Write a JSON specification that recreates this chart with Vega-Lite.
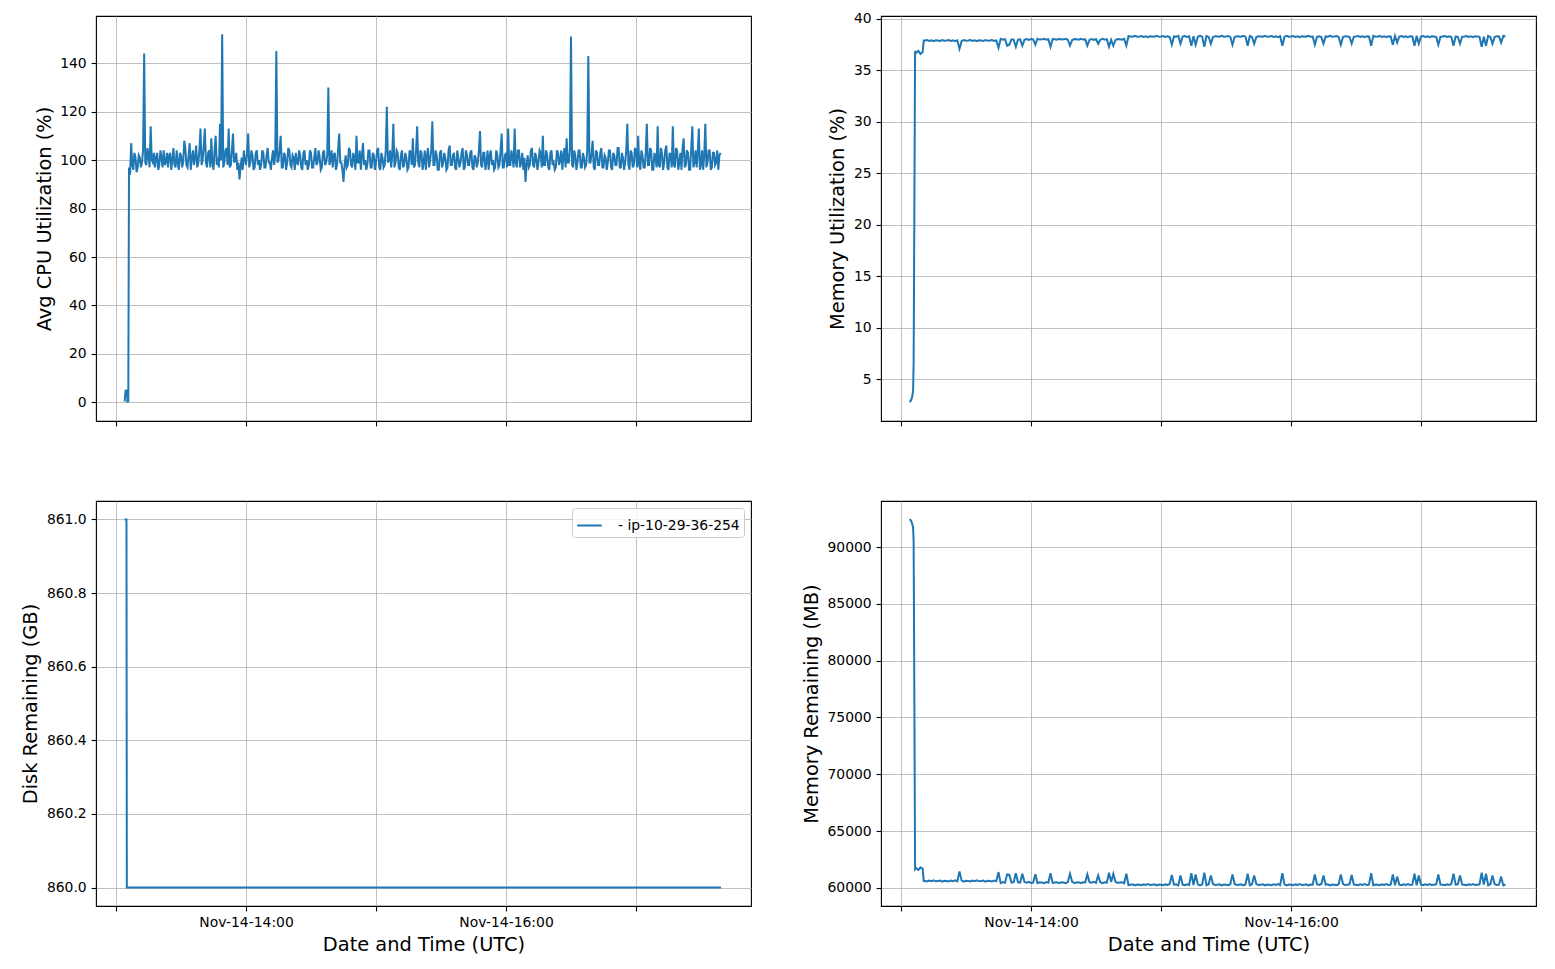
{
  "$schema": "https://vega.github.io/schema/vega-lite/v6.json",
  "background": "white",
  "padding": {"left": 20, "top": 11, "right": 15, "bottom": 5},
  "config": {
    "font": "DejaVu Sans",
    "view": {"stroke": "black", "strokeWidth": 1.1},
    "axis": {
      "labelFont": "DejaVu Sans", "labelFontSize": 13.9, "labelColor": "black",
      "titleFont": "DejaVu Sans", "titleFontSize": 19.4, "titleFontWeight": "normal", "titleColor": "black",
      "gridColor": "#b0b0b0", "gridWidth": 0.8, "grid": true,
      "tickColor": "black", "tickSize": 4.9, "tickWidth": 1.1,
      "domain": false, "labelPadding": 4.9, "titlePadding": 5.6
    },
    "legend": {"labelFont": "DejaVu Sans", "labelFontSize": 13.9, "labelColor": "black"},
    "line": {"color": "#1f77b4", "strokeWidth": 2}
  },
  "datasets": {
    "cpu": [
      {"t":"2023-11-14T13:04:00Z","c":0.4},{"t":"2023-11-14T13:04:25Z","c":4.8},{"t":"2023-11-14T13:05:05Z","c":4.9},{"t":"2023-11-14T13:05:15Z","c":0.3},{"t":"2023-11-14T13:05:40Z","c":0.4},{"t":"2023-11-14T13:06:00Z","c":97},{"t":"2023-11-14T13:06:30Z","c":94},
      {"t":"2023-11-14T13:07Z","c":107},{"t":"2023-11-14T13:07:30Z","c":98},{"t":"2023-11-14T13:08Z","c":96},{"t":"2023-11-14T13:08:30Z","c":103},{"t":"2023-11-14T13:09Z","c":101},{"t":"2023-11-14T13:09:30Z","c":95},{"t":"2023-11-14T13:10Z","c":97},{"t":"2023-11-14T13:10:30Z","c":102},{"t":"2023-11-14T13:11Z","c":101},{"t":"2023-11-14T13:11:30Z","c":97},{"t":"2023-11-14T13:12Z","c":99},{"t":"2023-11-14T13:12:30Z","c":104},{"t":"2023-11-14T13:13Z","c":144},{"t":"2023-11-14T13:13:30Z","c":99},{"t":"2023-11-14T13:14Z","c":98},{"t":"2023-11-14T13:14:30Z","c":105},{"t":"2023-11-14T13:15Z","c":102},{"t":"2023-11-14T13:15:30Z","c":97},{"t":"2023-11-14T13:16Z","c":114},{"t":"2023-11-14T13:16:30Z","c":100},{"t":"2023-11-14T13:17Z","c":99},{"t":"2023-11-14T13:17:30Z","c":103},{"t":"2023-11-14T13:18Z","c":97},{"t":"2023-11-14T13:18:30Z","c":101},{"t":"2023-11-14T13:19Z","c":103},{"t":"2023-11-14T13:19:30Z","c":96},{"t":"2023-11-14T13:20Z","c":98},{"t":"2023-11-14T13:20:30Z","c":104},{"t":"2023-11-14T13:21Z","c":101},{"t":"2023-11-14T13:21:30Z","c":97},{"t":"2023-11-14T13:22Z","c":104},{"t":"2023-11-14T13:22:30Z","c":98},{"t":"2023-11-14T13:23Z","c":99},{"t":"2023-11-14T13:23:30Z","c":103},{"t":"2023-11-14T13:24Z","c":97},{"t":"2023-11-14T13:24:30Z","c":102},{"t":"2023-11-14T13:25Z","c":103},{"t":"2023-11-14T13:25:30Z","c":96},{"t":"2023-11-14T13:26Z","c":100},{"t":"2023-11-14T13:26:30Z","c":105},{"t":"2023-11-14T13:27Z","c":98},{"t":"2023-11-14T13:27:30Z","c":97},{"t":"2023-11-14T13:28Z","c":104},{"t":"2023-11-14T13:28:30Z","c":99},{"t":"2023-11-14T13:29Z","c":96},{"t":"2023-11-14T13:29:30Z","c":103},{"t":"2023-11-14T13:30Z","c":102},{"t":"2023-11-14T13:30:30Z","c":97},{"t":"2023-11-14T13:31Z","c":99},{"t":"2023-11-14T13:31:30Z","c":108},{"t":"2023-11-14T13:32Z","c":105},{"t":"2023-11-14T13:32:30Z","c":98},{"t":"2023-11-14T13:33Z","c":97},{"t":"2023-11-14T13:33:30Z","c":102},{"t":"2023-11-14T13:34Z","c":107},{"t":"2023-11-14T13:34:30Z","c":96},{"t":"2023-11-14T13:35Z","c":101},{"t":"2023-11-14T13:35:30Z","c":104},{"t":"2023-11-14T13:36Z","c":98},{"t":"2023-11-14T13:36:30Z","c":101},{"t":"2023-11-14T13:37Z","c":106},{"t":"2023-11-14T13:37:30Z","c":97},{"t":"2023-11-14T13:38Z","c":99},{"t":"2023-11-14T13:38:30Z","c":104},{"t":"2023-11-14T13:39Z","c":113},{"t":"2023-11-14T13:39:30Z","c":98},{"t":"2023-11-14T13:40Z","c":100},{"t":"2023-11-14T13:40:30Z","c":106},{"t":"2023-11-14T13:41Z","c":113},{"t":"2023-11-14T13:41:30Z","c":99},{"t":"2023-11-14T13:42Z","c":97},{"t":"2023-11-14T13:42:30Z","c":103},{"t":"2023-11-14T13:43Z","c":104},{"t":"2023-11-14T13:43:30Z","c":97},{"t":"2023-11-14T13:44Z","c":109},{"t":"2023-11-14T13:44:30Z","c":99},{"t":"2023-11-14T13:45Z","c":96},{"t":"2023-11-14T13:45:30Z","c":104},{"t":"2023-11-14T13:46Z","c":110},{"t":"2023-11-14T13:46:30Z","c":98},{"t":"2023-11-14T13:47Z","c":101},{"t":"2023-11-14T13:47:30Z","c":97},{"t":"2023-11-14T13:48Z","c":115},{"t":"2023-11-14T13:48:30Z","c":100},{"t":"2023-11-14T13:49Z","c":152},{"t":"2023-11-14T13:49:30Z","c":97},{"t":"2023-11-14T13:50Z","c":99},{"t":"2023-11-14T13:50:30Z","c":104},{"t":"2023-11-14T13:51Z","c":105},{"t":"2023-11-14T13:51:30Z","c":98},{"t":"2023-11-14T13:52Z","c":113},{"t":"2023-11-14T13:52:30Z","c":97},{"t":"2023-11-14T13:53Z","c":98},{"t":"2023-11-14T13:53:30Z","c":104},{"t":"2023-11-14T13:54Z","c":111},{"t":"2023-11-14T13:54:30Z","c":99},{"t":"2023-11-14T13:55Z","c":100},{"t":"2023-11-14T13:55:30Z","c":103},{"t":"2023-11-14T13:56Z","c":96},{"t":"2023-11-14T13:56:30Z","c":99},{"t":"2023-11-14T13:57Z","c":92},{"t":"2023-11-14T13:57:30Z","c":97},{"t":"2023-11-14T13:58Z","c":101},{"t":"2023-11-14T13:58:30Z","c":96},{"t":"2023-11-14T13:59Z","c":104},{"t":"2023-11-14T13:59:30Z","c":100},
      {"t":"2023-11-14T14:00Z","c":98},{"t":"2023-11-14T14:00:30Z","c":103},{"t":"2023-11-14T14:01Z","c":111},{"t":"2023-11-14T14:01:30Z","c":97},{"t":"2023-11-14T14:02Z","c":99},{"t":"2023-11-14T14:02:30Z","c":104},{"t":"2023-11-14T14:03Z","c":102},{"t":"2023-11-14T14:03:30Z","c":96},{"t":"2023-11-14T14:04Z","c":97},{"t":"2023-11-14T14:04:30Z","c":103},{"t":"2023-11-14T14:05Z","c":104},{"t":"2023-11-14T14:05:30Z","c":98},{"t":"2023-11-14T14:06Z","c":100},{"t":"2023-11-14T14:06:30Z","c":96},{"t":"2023-11-14T14:07Z","c":98},{"t":"2023-11-14T14:07:30Z","c":104},{"t":"2023-11-14T14:08Z","c":103},{"t":"2023-11-14T14:08:30Z","c":97},{"t":"2023-11-14T14:09Z","c":97},{"t":"2023-11-14T14:09:30Z","c":102},{"t":"2023-11-14T14:10Z","c":105},{"t":"2023-11-14T14:10:30Z","c":99},{"t":"2023-11-14T14:11Z","c":99},{"t":"2023-11-14T14:11:30Z","c":96},{"t":"2023-11-14T14:12Z","c":101},{"t":"2023-11-14T14:12:30Z","c":104},{"t":"2023-11-14T14:13Z","c":98},{"t":"2023-11-14T14:13:30Z","c":102},{"t":"2023-11-14T14:14Z","c":145},{"t":"2023-11-14T14:14:30Z","c":99},{"t":"2023-11-14T14:15Z","c":100},{"t":"2023-11-14T14:15:30Z","c":104},{"t":"2023-11-14T14:16Z","c":110},{"t":"2023-11-14T14:16:30Z","c":97},{"t":"2023-11-14T14:17Z","c":97},{"t":"2023-11-14T14:17:30Z","c":103},{"t":"2023-11-14T14:18Z","c":102},{"t":"2023-11-14T14:18:30Z","c":96},{"t":"2023-11-14T14:19Z","c":99},{"t":"2023-11-14T14:19:30Z","c":105},{"t":"2023-11-14T14:20Z","c":104},{"t":"2023-11-14T14:20:30Z","c":98},{"t":"2023-11-14T14:21Z","c":97},{"t":"2023-11-14T14:21:30Z","c":102},{"t":"2023-11-14T14:22Z","c":101},{"t":"2023-11-14T14:22:30Z","c":96},{"t":"2023-11-14T14:23Z","c":103},{"t":"2023-11-14T14:23:30Z","c":99},{"t":"2023-11-14T14:24Z","c":98},{"t":"2023-11-14T14:24:30Z","c":104},{"t":"2023-11-14T14:25Z","c":102},{"t":"2023-11-14T14:25:30Z","c":97},{"t":"2023-11-14T14:26Z","c":96},{"t":"2023-11-14T14:26:30Z","c":103},{"t":"2023-11-14T14:27Z","c":104},{"t":"2023-11-14T14:27:30Z","c":98},{"t":"2023-11-14T14:28Z","c":100},{"t":"2023-11-14T14:28:30Z","c":96},{"t":"2023-11-14T14:29Z","c":98},{"t":"2023-11-14T14:29:30Z","c":104},{"t":"2023-11-14T14:30Z","c":103},{"t":"2023-11-14T14:30:30Z","c":97},{"t":"2023-11-14T14:31Z","c":97},{"t":"2023-11-14T14:31:30Z","c":101},{"t":"2023-11-14T14:32Z","c":105},{"t":"2023-11-14T14:32:30Z","c":98},{"t":"2023-11-14T14:33Z","c":99},{"t":"2023-11-14T14:33:30Z","c":104},{"t":"2023-11-14T14:34Z","c":101},{"t":"2023-11-14T14:34:30Z","c":96},{"t":"2023-11-14T14:35Z","c":97},{"t":"2023-11-14T14:35:30Z","c":103},{"t":"2023-11-14T14:36Z","c":104},{"t":"2023-11-14T14:36:30Z","c":98},{"t":"2023-11-14T14:37Z","c":99},{"t":"2023-11-14T14:37:30Z","c":102},{"t":"2023-11-14T14:38Z","c":130},{"t":"2023-11-14T14:38:30Z","c":98},{"t":"2023-11-14T14:39Z","c":100},{"t":"2023-11-14T14:39:30Z","c":104},{"t":"2023-11-14T14:40Z","c":97},{"t":"2023-11-14T14:40:30Z","c":102},{"t":"2023-11-14T14:41Z","c":103},{"t":"2023-11-14T14:41:30Z","c":96},{"t":"2023-11-14T14:42Z","c":98},{"t":"2023-11-14T14:42:30Z","c":104},{"t":"2023-11-14T14:43Z","c":111},{"t":"2023-11-14T14:43:30Z","c":99},{"t":"2023-11-14T14:44Z","c":99},{"t":"2023-11-14T14:44:30Z","c":96},{"t":"2023-11-14T14:45Z","c":91},{"t":"2023-11-14T14:45:30Z","c":98},{"t":"2023-11-14T14:46Z","c":102},{"t":"2023-11-14T14:46:30Z","c":97},{"t":"2023-11-14T14:47Z","c":98},{"t":"2023-11-14T14:47:30Z","c":105},{"t":"2023-11-14T14:48Z","c":104},{"t":"2023-11-14T14:48:30Z","c":98},{"t":"2023-11-14T14:49Z","c":97},{"t":"2023-11-14T14:49:30Z","c":103},{"t":"2023-11-14T14:50Z","c":101},{"t":"2023-11-14T14:50:30Z","c":96},{"t":"2023-11-14T14:51Z","c":110},{"t":"2023-11-14T14:51:30Z","c":99},{"t":"2023-11-14T14:52Z","c":99},{"t":"2023-11-14T14:52:30Z","c":104},{"t":"2023-11-14T14:53Z","c":96},{"t":"2023-11-14T14:53:30Z","c":102},{"t":"2023-11-14T14:54Z","c":107},{"t":"2023-11-14T14:54:30Z","c":98},{"t":"2023-11-14T14:55Z","c":100},{"t":"2023-11-14T14:55:30Z","c":96},{"t":"2023-11-14T14:56Z","c":98},{"t":"2023-11-14T14:56:30Z","c":104},{"t":"2023-11-14T14:57Z","c":104},{"t":"2023-11-14T14:57:30Z","c":97},{"t":"2023-11-14T14:58Z","c":97},{"t":"2023-11-14T14:58:30Z","c":103},{"t":"2023-11-14T14:59Z","c":102},{"t":"2023-11-14T14:59:30Z","c":96},
      {"t":"2023-11-14T15:00Z","c":99},{"t":"2023-11-14T15:00:30Z","c":104},{"t":"2023-11-14T15:01Z","c":105},{"t":"2023-11-14T15:01:30Z","c":97},{"t":"2023-11-14T15:02Z","c":96},{"t":"2023-11-14T15:02:30Z","c":103},{"t":"2023-11-14T15:03Z","c":101},{"t":"2023-11-14T15:03:30Z","c":97},{"t":"2023-11-14T15:04Z","c":98},{"t":"2023-11-14T15:04:30Z","c":104},{"t":"2023-11-14T15:05Z","c":122},{"t":"2023-11-14T15:05:30Z","c":99},{"t":"2023-11-14T15:06Z","c":100},{"t":"2023-11-14T15:06:30Z","c":104},{"t":"2023-11-14T15:07Z","c":97},{"t":"2023-11-14T15:07:30Z","c":102},{"t":"2023-11-14T15:08Z","c":115},{"t":"2023-11-14T15:08:30Z","c":97},{"t":"2023-11-14T15:09Z","c":99},{"t":"2023-11-14T15:09:30Z","c":104},{"t":"2023-11-14T15:10Z","c":103},{"t":"2023-11-14T15:10:30Z","c":97},{"t":"2023-11-14T15:11Z","c":96},{"t":"2023-11-14T15:11:30Z","c":102},{"t":"2023-11-14T15:12Z","c":104},{"t":"2023-11-14T15:12:30Z","c":97},{"t":"2023-11-14T15:13Z","c":98},{"t":"2023-11-14T15:13:30Z","c":103},{"t":"2023-11-14T15:14Z","c":101},{"t":"2023-11-14T15:14:30Z","c":96},{"t":"2023-11-14T15:15Z","c":97},{"t":"2023-11-14T15:15:30Z","c":104},{"t":"2023-11-14T15:16Z","c":103},{"t":"2023-11-14T15:16:30Z","c":98},{"t":"2023-11-14T15:17Z","c":109},{"t":"2023-11-14T15:17:30Z","c":97},{"t":"2023-11-14T15:18Z","c":98},{"t":"2023-11-14T15:18:30Z","c":104},{"t":"2023-11-14T15:19Z","c":114},{"t":"2023-11-14T15:19:30Z","c":99},{"t":"2023-11-14T15:20Z","c":97},{"t":"2023-11-14T15:20:30Z","c":104},{"t":"2023-11-14T15:21Z","c":103},{"t":"2023-11-14T15:21:30Z","c":96},{"t":"2023-11-14T15:22Z","c":99},{"t":"2023-11-14T15:22:30Z","c":104},{"t":"2023-11-14T15:23Z","c":96},{"t":"2023-11-14T15:23:30Z","c":102},{"t":"2023-11-14T15:24Z","c":105},{"t":"2023-11-14T15:24:30Z","c":97},{"t":"2023-11-14T15:25Z","c":100},{"t":"2023-11-14T15:25:30Z","c":104},{"t":"2023-11-14T15:26Z","c":116},{"t":"2023-11-14T15:26:30Z","c":98},{"t":"2023-11-14T15:27Z","c":98},{"t":"2023-11-14T15:27:30Z","c":104},{"t":"2023-11-14T15:28Z","c":102},{"t":"2023-11-14T15:28:30Z","c":96},{"t":"2023-11-14T15:29Z","c":96},{"t":"2023-11-14T15:29:30Z","c":103},{"t":"2023-11-14T15:30Z","c":104},{"t":"2023-11-14T15:30:30Z","c":97},{"t":"2023-11-14T15:31Z","c":99},{"t":"2023-11-14T15:31:30Z","c":103},{"t":"2023-11-14T15:32Z","c":101},{"t":"2023-11-14T15:32:30Z","c":96},{"t":"2023-11-14T15:33Z","c":97},{"t":"2023-11-14T15:33:30Z","c":104},{"t":"2023-11-14T15:34Z","c":106},{"t":"2023-11-14T15:34:30Z","c":98},{"t":"2023-11-14T15:35Z","c":98},{"t":"2023-11-14T15:35:30Z","c":102},{"t":"2023-11-14T15:36Z","c":103},{"t":"2023-11-14T15:36:30Z","c":97},{"t":"2023-11-14T15:37Z","c":96},{"t":"2023-11-14T15:37:30Z","c":104},{"t":"2023-11-14T15:38Z","c":101},{"t":"2023-11-14T15:38:30Z","c":97},{"t":"2023-11-14T15:39Z","c":99},{"t":"2023-11-14T15:39:30Z","c":103},{"t":"2023-11-14T15:40Z","c":105},{"t":"2023-11-14T15:40:30Z","c":96},{"t":"2023-11-14T15:41Z","c":97},{"t":"2023-11-14T15:41:30Z","c":104},{"t":"2023-11-14T15:42Z","c":102},{"t":"2023-11-14T15:42:30Z","c":98},{"t":"2023-11-14T15:43Z","c":98},{"t":"2023-11-14T15:43:30Z","c":103},{"t":"2023-11-14T15:44Z","c":104},{"t":"2023-11-14T15:44:30Z","c":97},{"t":"2023-11-14T15:45Z","c":96},{"t":"2023-11-14T15:45:30Z","c":102},{"t":"2023-11-14T15:46Z","c":101},{"t":"2023-11-14T15:46:30Z","c":97},{"t":"2023-11-14T15:47Z","c":99},{"t":"2023-11-14T15:47:30Z","c":104},{"t":"2023-11-14T15:48Z","c":112},{"t":"2023-11-14T15:48:30Z","c":98},{"t":"2023-11-14T15:49Z","c":97},{"t":"2023-11-14T15:49:30Z","c":103},{"t":"2023-11-14T15:50Z","c":103},{"t":"2023-11-14T15:50:30Z","c":96},{"t":"2023-11-14T15:51Z","c":99},{"t":"2023-11-14T15:51:30Z","c":104},{"t":"2023-11-14T15:52Z","c":96},{"t":"2023-11-14T15:52:30Z","c":102},{"t":"2023-11-14T15:53Z","c":104},{"t":"2023-11-14T15:53:30Z","c":98},{"t":"2023-11-14T15:54Z","c":100},{"t":"2023-11-14T15:54:30Z","c":96},{"t":"2023-11-14T15:55Z","c":97},{"t":"2023-11-14T15:55:30Z","c":104},{"t":"2023-11-14T15:56Z","c":102},{"t":"2023-11-14T15:56:30Z","c":97},{"t":"2023-11-14T15:57Z","c":98},{"t":"2023-11-14T15:57:30Z","c":104},{"t":"2023-11-14T15:58Z","c":111},{"t":"2023-11-14T15:58:30Z","c":97},{"t":"2023-11-14T15:59Z","c":97},{"t":"2023-11-14T15:59:30Z","c":102},
      {"t":"2023-11-14T16:00Z","c":103},{"t":"2023-11-14T16:00:30Z","c":97},{"t":"2023-11-14T16:01Z","c":113},{"t":"2023-11-14T16:01:30Z","c":98},{"t":"2023-11-14T16:02Z","c":98},{"t":"2023-11-14T16:02:30Z","c":104},{"t":"2023-11-14T16:03Z","c":101},{"t":"2023-11-14T16:03:30Z","c":97},{"t":"2023-11-14T16:04Z","c":113},{"t":"2023-11-14T16:04:30Z","c":99},{"t":"2023-11-14T16:05Z","c":97},{"t":"2023-11-14T16:05:30Z","c":104},{"t":"2023-11-14T16:06Z","c":104},{"t":"2023-11-14T16:06:30Z","c":97},{"t":"2023-11-14T16:07Z","c":99},{"t":"2023-11-14T16:07:30Z","c":103},{"t":"2023-11-14T16:08Z","c":96},{"t":"2023-11-14T16:08:30Z","c":101},{"t":"2023-11-14T16:09Z","c":91},{"t":"2023-11-14T16:09:30Z","c":98},{"t":"2023-11-14T16:10Z","c":102},{"t":"2023-11-14T16:10:30Z","c":97},{"t":"2023-11-14T16:11Z","c":98},{"t":"2023-11-14T16:11:30Z","c":104},{"t":"2023-11-14T16:12Z","c":105},{"t":"2023-11-14T16:12:30Z","c":98},{"t":"2023-11-14T16:13Z","c":97},{"t":"2023-11-14T16:13:30Z","c":103},{"t":"2023-11-14T16:14Z","c":101},{"t":"2023-11-14T16:14:30Z","c":96},{"t":"2023-11-14T16:15Z","c":99},{"t":"2023-11-14T16:15:30Z","c":104},{"t":"2023-11-14T16:16Z","c":103},{"t":"2023-11-14T16:16:30Z","c":97},{"t":"2023-11-14T16:17Z","c":110},{"t":"2023-11-14T16:17:30Z","c":98},{"t":"2023-11-14T16:18Z","c":98},{"t":"2023-11-14T16:18:30Z","c":104},{"t":"2023-11-14T16:19Z","c":102},{"t":"2023-11-14T16:19:30Z","c":97},{"t":"2023-11-14T16:20Z","c":96},{"t":"2023-11-14T16:20:30Z","c":103},{"t":"2023-11-14T16:21Z","c":104},{"t":"2023-11-14T16:21:30Z","c":98},{"t":"2023-11-14T16:22Z","c":99},{"t":"2023-11-14T16:22:30Z","c":96},{"t":"2023-11-14T16:23Z","c":97},{"t":"2023-11-14T16:23:30Z","c":104},{"t":"2023-11-14T16:24Z","c":103},{"t":"2023-11-14T16:24:30Z","c":98},{"t":"2023-11-14T16:25Z","c":100},{"t":"2023-11-14T16:25:30Z","c":104},{"t":"2023-11-14T16:26Z","c":96},{"t":"2023-11-14T16:26:30Z","c":102},{"t":"2023-11-14T16:27Z","c":105},{"t":"2023-11-14T16:27:30Z","c":97},{"t":"2023-11-14T16:28Z","c":109},{"t":"2023-11-14T16:28:30Z","c":99},{"t":"2023-11-14T16:29Z","c":99},{"t":"2023-11-14T16:29:30Z","c":104},{"t":"2023-11-14T16:30Z","c":151},{"t":"2023-11-14T16:30:30Z","c":98},{"t":"2023-11-14T16:31Z","c":97},{"t":"2023-11-14T16:31:30Z","c":104},{"t":"2023-11-14T16:32Z","c":102},{"t":"2023-11-14T16:32:30Z","c":96},{"t":"2023-11-14T16:33Z","c":99},{"t":"2023-11-14T16:33:30Z","c":104},{"t":"2023-11-14T16:34Z","c":104},{"t":"2023-11-14T16:34:30Z","c":97},{"t":"2023-11-14T16:35Z","c":97},{"t":"2023-11-14T16:35:30Z","c":103},{"t":"2023-11-14T16:36Z","c":101},{"t":"2023-11-14T16:36:30Z","c":97},{"t":"2023-11-14T16:37Z","c":98},{"t":"2023-11-14T16:37:30Z","c":104},{"t":"2023-11-14T16:38Z","c":143},{"t":"2023-11-14T16:38:30Z","c":99},{"t":"2023-11-14T16:39Z","c":99},{"t":"2023-11-14T16:39:30Z","c":103},{"t":"2023-11-14T16:40Z","c":108},{"t":"2023-11-14T16:40:30Z","c":97},{"t":"2023-11-14T16:41Z","c":96},{"t":"2023-11-14T16:41:30Z","c":104},{"t":"2023-11-14T16:42Z","c":103},{"t":"2023-11-14T16:42:30Z","c":98},{"t":"2023-11-14T16:43Z","c":98},{"t":"2023-11-14T16:43:30Z","c":103},{"t":"2023-11-14T16:44Z","c":105},{"t":"2023-11-14T16:44:30Z","c":97},{"t":"2023-11-14T16:45Z","c":97},{"t":"2023-11-14T16:45:30Z","c":102},{"t":"2023-11-14T16:46Z","c":101},{"t":"2023-11-14T16:46:30Z","c":96},{"t":"2023-11-14T16:47Z","c":99},{"t":"2023-11-14T16:47:30Z","c":104},{"t":"2023-11-14T16:48Z","c":104},{"t":"2023-11-14T16:48:30Z","c":97},{"t":"2023-11-14T16:49Z","c":96},{"t":"2023-11-14T16:49:30Z","c":103},{"t":"2023-11-14T16:50Z","c":102},{"t":"2023-11-14T16:50:30Z","c":98},{"t":"2023-11-14T16:51Z","c":98},{"t":"2023-11-14T16:51:30Z","c":105},{"t":"2023-11-14T16:52Z","c":105},{"t":"2023-11-14T16:52:30Z","c":97},{"t":"2023-11-14T16:53Z","c":97},{"t":"2023-11-14T16:53:30Z","c":103},{"t":"2023-11-14T16:54Z","c":101},{"t":"2023-11-14T16:54:30Z","c":96},{"t":"2023-11-14T16:55Z","c":99},{"t":"2023-11-14T16:55:30Z","c":104},{"t":"2023-11-14T16:56Z","c":115},{"t":"2023-11-14T16:56:30Z","c":98},{"t":"2023-11-14T16:57Z","c":96},{"t":"2023-11-14T16:57:30Z","c":104},{"t":"2023-11-14T16:58Z","c":103},{"t":"2023-11-14T16:58:30Z","c":97},{"t":"2023-11-14T16:59Z","c":98},{"t":"2023-11-14T16:59:30Z","c":105},
      {"t":"2023-11-14T17:00Z","c":104},{"t":"2023-11-14T17:00:30Z","c":97},{"t":"2023-11-14T17:01Z","c":110},{"t":"2023-11-14T17:01:30Z","c":98},{"t":"2023-11-14T17:02Z","c":96},{"t":"2023-11-14T17:02:30Z","c":104},{"t":"2023-11-14T17:03Z","c":102},{"t":"2023-11-14T17:03:30Z","c":97},{"t":"2023-11-14T17:04Z","c":97},{"t":"2023-11-14T17:04:30Z","c":103},{"t":"2023-11-14T17:05Z","c":115},{"t":"2023-11-14T17:05:30Z","c":98},{"t":"2023-11-14T17:06Z","c":98},{"t":"2023-11-14T17:06:30Z","c":105},{"t":"2023-11-14T17:07Z","c":104},{"t":"2023-11-14T17:07:30Z","c":96},{"t":"2023-11-14T17:08Z","c":96},{"t":"2023-11-14T17:08:30Z","c":103},{"t":"2023-11-14T17:09Z","c":101},{"t":"2023-11-14T17:09:30Z","c":97},{"t":"2023-11-14T17:10Z","c":114},{"t":"2023-11-14T17:10:30Z","c":98},{"t":"2023-11-14T17:11Z","c":97},{"t":"2023-11-14T17:11:30Z","c":105},{"t":"2023-11-14T17:12Z","c":103},{"t":"2023-11-14T17:12:30Z","c":96},{"t":"2023-11-14T17:13Z","c":99},{"t":"2023-11-14T17:13:30Z","c":104},{"t":"2023-11-14T17:14Z","c":106},{"t":"2023-11-14T17:14:30Z","c":97},{"t":"2023-11-14T17:15Z","c":96},{"t":"2023-11-14T17:15:30Z","c":103},{"t":"2023-11-14T17:16Z","c":102},{"t":"2023-11-14T17:16:30Z","c":97},{"t":"2023-11-14T17:17Z","c":114},{"t":"2023-11-14T17:17:30Z","c":98},{"t":"2023-11-14T17:18Z","c":97},{"t":"2023-11-14T17:18:30Z","c":105},{"t":"2023-11-14T17:19Z","c":104},{"t":"2023-11-14T17:19:30Z","c":96},{"t":"2023-11-14T17:20Z","c":99},{"t":"2023-11-14T17:20:30Z","c":103},{"t":"2023-11-14T17:21Z","c":96},{"t":"2023-11-14T17:21:30Z","c":105},{"t":"2023-11-14T17:22Z","c":109},{"t":"2023-11-14T17:22:30Z","c":97},{"t":"2023-11-14T17:23Z","c":98},{"t":"2023-11-14T17:23:30Z","c":104},{"t":"2023-11-14T17:24Z","c":103},{"t":"2023-11-14T17:24:30Z","c":96},{"t":"2023-11-14T17:25Z","c":96},{"t":"2023-11-14T17:25:30Z","c":105},{"t":"2023-11-14T17:26Z","c":114},{"t":"2023-11-14T17:26:30Z","c":97},{"t":"2023-11-14T17:27Z","c":99},{"t":"2023-11-14T17:27:30Z","c":104},{"t":"2023-11-14T17:28Z","c":97},{"t":"2023-11-14T17:28:30Z","c":103},{"t":"2023-11-14T17:29Z","c":113},{"t":"2023-11-14T17:29:30Z","c":96},{"t":"2023-11-14T17:30Z","c":98},{"t":"2023-11-14T17:30:30Z","c":104},{"t":"2023-11-14T17:31Z","c":96},{"t":"2023-11-14T17:31:30Z","c":102},{"t":"2023-11-14T17:32Z","c":115},{"t":"2023-11-14T17:32:30Z","c":97},{"t":"2023-11-14T17:33Z","c":99},{"t":"2023-11-14T17:33:30Z","c":104},{"t":"2023-11-14T17:34Z","c":104},{"t":"2023-11-14T17:34:30Z","c":96},{"t":"2023-11-14T17:35Z","c":97},{"t":"2023-11-14T17:35:30Z","c":103},{"t":"2023-11-14T17:36Z","c":103},{"t":"2023-11-14T17:36:30Z","c":98},{"t":"2023-11-14T17:37Z","c":99},{"t":"2023-11-14T17:37:30Z","c":104},{"t":"2023-11-14T17:38Z","c":96},{"t":"2023-11-14T17:38:30Z","c":102},{"t":"2023-11-14T17:39Z","c":103}
    ],
    "mem": [
      {"t":"2023-11-14T13:04:00Z","m":2.77,"r":92460},{"t":"2023-11-14T13:04:40Z","m":2.95,"r":92300},{"t":"2023-11-14T13:05:10Z","m":3.3,"r":92050},{"t":"2023-11-14T13:05:35Z","m":3.9,"r":91700},{"t":"2023-11-14T13:05:50Z","m":6.6,"r":90500},{"t":"2023-11-14T13:06:10Z","m":21.5,"r":76500},{"t":"2023-11-14T13:06:30Z","m":36.9,"r":61650},{"t":"2023-11-14T13:07Z","m":36.7,"r":61750},{"t":"2023-11-14T13:08Z","m":36.9,"r":61600},{"t":"2023-11-14T13:09Z","m":36.6,"r":61800},{"t":"2023-11-14T13:10Z","m":36.8,"r":61700},{"t":"2023-11-14T13:10:30Z","m":37.9,"r":60620},
      {"t":"2023-11-14T13:11Z","m":37.90,"r":60620},{"t":"2023-11-14T13:12Z","m":37.95,"r":60570},{"t":"2023-11-14T13:13Z","m":37.86,"r":60660},{"t":"2023-11-14T13:14Z","m":37.92,"r":60600},{"t":"2023-11-14T13:15Z","m":37.84,"r":60680},{"t":"2023-11-14T13:16Z","m":37.93,"r":60590},{"t":"2023-11-14T13:17Z","m":37.90,"r":60620},{"t":"2023-11-14T13:18Z","m":37.87,"r":60650},{"t":"2023-11-14T13:19Z","m":37.96,"r":60560},{"t":"2023-11-14T13:20Z","m":37.88,"r":60640},{"t":"2023-11-14T13:21Z","m":37.90,"r":60620},{"t":"2023-11-14T13:22Z","m":37.95,"r":60570},{"t":"2023-11-14T13:23Z","m":37.86,"r":60660},{"t":"2023-11-14T13:24Z","m":37.92,"r":60600},{"t":"2023-11-14T13:25Z","m":37.84,"r":60680},{"t":"2023-11-14T13:26Z","m":37.93,"r":60590},{"t":"2023-11-14T13:27Z","m":37.10,"r":61450},{"t":"2023-11-14T13:28Z","m":37.87,"r":60650},{"t":"2023-11-14T13:29Z","m":37.96,"r":60560},{"t":"2023-11-14T13:30Z","m":37.88,"r":60640},{"t":"2023-11-14T13:31Z","m":37.90,"r":60620},{"t":"2023-11-14T13:32Z","m":37.95,"r":60570},{"t":"2023-11-14T13:33Z","m":37.86,"r":60660},{"t":"2023-11-14T13:34Z","m":37.92,"r":60600},{"t":"2023-11-14T13:35Z","m":37.84,"r":60680},{"t":"2023-11-14T13:36Z","m":37.93,"r":60590},{"t":"2023-11-14T13:37Z","m":37.90,"r":60620},{"t":"2023-11-14T13:38Z","m":37.87,"r":60650},{"t":"2023-11-14T13:39Z","m":37.96,"r":60560},{"t":"2023-11-14T13:40Z","m":37.88,"r":60640},{"t":"2023-11-14T13:41Z","m":37.90,"r":60620},{"t":"2023-11-14T13:42Z","m":37.95,"r":60570},{"t":"2023-11-14T13:43Z","m":37.86,"r":60660},{"t":"2023-11-14T13:44Z","m":37.92,"r":60600},
      {"t":"2023-11-14T13:45Z","m":37.20,"r":61400},{"t":"2023-11-14T13:46Z","m":38.07,"r":60430},{"t":"2023-11-14T13:47Z","m":37.98,"r":60520},{"t":"2023-11-14T13:48Z","m":38.04,"r":60460},{"t":"2023-11-14T13:49Z","m":37.40,"r":61200},{"t":"2023-11-14T13:50Z","m":37.50,"r":61150},{"t":"2023-11-14T13:51Z","m":38.02,"r":60480},{"t":"2023-11-14T13:52Z","m":37.99,"r":60510},{"t":"2023-11-14T13:53Z","m":37.30,"r":61300},{"t":"2023-11-14T13:54Z","m":38.00,"r":60500},{"t":"2023-11-14T13:55Z","m":38.02,"r":60480},{"t":"2023-11-14T13:56Z","m":37.40,"r":61250},{"t":"2023-11-14T13:57Z","m":37.98,"r":60520},{"t":"2023-11-14T13:58Z","m":38.04,"r":60460},{"t":"2023-11-14T13:59Z","m":37.96,"r":60540},{"t":"2023-11-14T14:00Z","m":38.05,"r":60450},{"t":"2023-11-14T14:01Z","m":38.02,"r":60480},{"t":"2023-11-14T14:02Z","m":37.50,"r":61200},{"t":"2023-11-14T14:03Z","m":38.08,"r":60420},{"t":"2023-11-14T14:04Z","m":38.00,"r":60500},{"t":"2023-11-14T14:05Z","m":38.02,"r":60480},{"t":"2023-11-14T14:06Z","m":38.07,"r":60430},{"t":"2023-11-14T14:07Z","m":37.98,"r":60520},{"t":"2023-11-14T14:08Z","m":38.04,"r":60460},{"t":"2023-11-14T14:09Z","m":37.30,"r":61300},{"t":"2023-11-14T14:10Z","m":38.05,"r":60450},{"t":"2023-11-14T14:11Z","m":38.02,"r":60480},{"t":"2023-11-14T14:12Z","m":37.99,"r":60510},{"t":"2023-11-14T14:13Z","m":38.08,"r":60420},{"t":"2023-11-14T14:14Z","m":38.00,"r":60500},{"t":"2023-11-14T14:15Z","m":38.02,"r":60480},{"t":"2023-11-14T14:16Z","m":38.07,"r":60430},{"t":"2023-11-14T14:17Z","m":37.98,"r":60520},{"t":"2023-11-14T14:18Z","m":37.40,"r":61250},{"t":"2023-11-14T14:19Z","m":37.96,"r":60540},{"t":"2023-11-14T14:20Z","m":38.05,"r":60450},{"t":"2023-11-14T14:21Z","m":38.02,"r":60480},{"t":"2023-11-14T14:22Z","m":37.99,"r":60510},{"t":"2023-11-14T14:23Z","m":38.08,"r":60420},{"t":"2023-11-14T14:24Z","m":38.00,"r":60500},{"t":"2023-11-14T14:25Z","m":38.02,"r":60480},{"t":"2023-11-14T14:26Z","m":37.40,"r":61200},{"t":"2023-11-14T14:27Z","m":37.98,"r":60520},{"t":"2023-11-14T14:28Z","m":38.04,"r":60460},{"t":"2023-11-14T14:29Z","m":37.96,"r":60540},{"t":"2023-11-14T14:30Z","m":38.05,"r":60450},{"t":"2023-11-14T14:31Z","m":37.60,"r":61100},{"t":"2023-11-14T14:32Z","m":37.99,"r":60510},{"t":"2023-11-14T14:33Z","m":38.08,"r":60420},{"t":"2023-11-14T14:34Z","m":38.00,"r":60500},{"t":"2023-11-14T14:35Z","m":38.02,"r":60480},{"t":"2023-11-14T14:36Z","m":37.30,"r":61350},{"t":"2023-11-14T14:37Z","m":37.98,"r":60520},{"t":"2023-11-14T14:38Z","m":37.40,"r":61250},{"t":"2023-11-14T14:39Z","m":37.96,"r":60540},{"t":"2023-11-14T14:40Z","m":38.05,"r":60450},{"t":"2023-11-14T14:41Z","m":38.02,"r":60480},{"t":"2023-11-14T14:42Z","m":37.99,"r":60510},{"t":"2023-11-14T14:43Z","m":38.08,"r":60420},
      {"t":"2023-11-14T14:44Z","m":37.40,"r":61250},{"t":"2023-11-14T14:45Z","m":38.33,"r":60260},{"t":"2023-11-14T14:46Z","m":38.30,"r":60290},{"t":"2023-11-14T14:47Z","m":38.27,"r":60320},{"t":"2023-11-14T14:48Z","m":38.36,"r":60230},{"t":"2023-11-14T14:49Z","m":38.28,"r":60310},{"t":"2023-11-14T14:50Z","m":38.30,"r":60290},{"t":"2023-11-14T14:51Z","m":38.35,"r":60240},{"t":"2023-11-14T14:52Z","m":38.26,"r":60330},{"t":"2023-11-14T14:53Z","m":38.32,"r":60270},{"t":"2023-11-14T14:54Z","m":38.24,"r":60350},{"t":"2023-11-14T14:55Z","m":38.33,"r":60260},{"t":"2023-11-14T14:56Z","m":38.30,"r":60290},{"t":"2023-11-14T14:57Z","m":38.27,"r":60320},{"t":"2023-11-14T14:58Z","m":38.36,"r":60230},{"t":"2023-11-14T14:59Z","m":38.28,"r":60310},
      {"t":"2023-11-14T15:00Z","m":38.30,"r":60290},{"t":"2023-11-14T15:01Z","m":38.35,"r":60240},{"t":"2023-11-14T15:02Z","m":38.26,"r":60330},{"t":"2023-11-14T15:03Z","m":38.32,"r":60270},{"t":"2023-11-14T15:04Z","m":38.24,"r":60350},{"t":"2023-11-14T15:05Z","m":37.50,"r":61150},{"t":"2023-11-14T15:06Z","m":38.30,"r":60290},{"t":"2023-11-14T15:07Z","m":38.27,"r":60320},{"t":"2023-11-14T15:08Z","m":38.36,"r":60230},{"t":"2023-11-14T15:09Z","m":37.60,"r":61100},{"t":"2023-11-14T15:10Z","m":38.30,"r":60290},{"t":"2023-11-14T15:11Z","m":38.35,"r":60240},{"t":"2023-11-14T15:12Z","m":38.26,"r":60330},{"t":"2023-11-14T15:13Z","m":38.32,"r":60270},{"t":"2023-11-14T15:14Z","m":37.40,"r":61300},{"t":"2023-11-14T15:15Z","m":38.33,"r":60260},{"t":"2023-11-14T15:16Z","m":37.50,"r":61200},{"t":"2023-11-14T15:17Z","m":38.27,"r":60320},{"t":"2023-11-14T15:18Z","m":38.36,"r":60230},{"t":"2023-11-14T15:19Z","m":38.28,"r":60310},{"t":"2023-11-14T15:20Z","m":37.30,"r":61350},{"t":"2023-11-14T15:21Z","m":38.35,"r":60240},{"t":"2023-11-14T15:22Z","m":38.26,"r":60330},{"t":"2023-11-14T15:23Z","m":37.60,"r":61100},{"t":"2023-11-14T15:24Z","m":38.24,"r":60350},{"t":"2023-11-14T15:25Z","m":38.33,"r":60260},{"t":"2023-11-14T15:26Z","m":38.30,"r":60290},{"t":"2023-11-14T15:27Z","m":38.27,"r":60320},{"t":"2023-11-14T15:28Z","m":38.36,"r":60230},{"t":"2023-11-14T15:29Z","m":38.28,"r":60310},{"t":"2023-11-14T15:30Z","m":38.30,"r":60290},{"t":"2023-11-14T15:31Z","m":38.35,"r":60240},{"t":"2023-11-14T15:32Z","m":38.26,"r":60330},{"t":"2023-11-14T15:33Z","m":37.50,"r":61200},{"t":"2023-11-14T15:34Z","m":38.24,"r":60350},{"t":"2023-11-14T15:35Z","m":38.33,"r":60260},{"t":"2023-11-14T15:36Z","m":38.30,"r":60290},{"t":"2023-11-14T15:37Z","m":38.27,"r":60320},{"t":"2023-11-14T15:38Z","m":38.36,"r":60230},{"t":"2023-11-14T15:39Z","m":38.28,"r":60310},{"t":"2023-11-14T15:40Z","m":37.40,"r":61250},{"t":"2023-11-14T15:41Z","m":38.35,"r":60240},{"t":"2023-11-14T15:42Z","m":38.26,"r":60330},{"t":"2023-11-14T15:43Z","m":37.60,"r":61100},{"t":"2023-11-14T15:44Z","m":38.24,"r":60350},{"t":"2023-11-14T15:45Z","m":38.33,"r":60260},{"t":"2023-11-14T15:46Z","m":38.30,"r":60290},{"t":"2023-11-14T15:47Z","m":38.27,"r":60320},{"t":"2023-11-14T15:48Z","m":38.36,"r":60230},{"t":"2023-11-14T15:49Z","m":38.28,"r":60310},{"t":"2023-11-14T15:50Z","m":38.30,"r":60290},{"t":"2023-11-14T15:51Z","m":38.35,"r":60240},{"t":"2023-11-14T15:52Z","m":38.26,"r":60330},{"t":"2023-11-14T15:53Z","m":38.32,"r":60270},{"t":"2023-11-14T15:54Z","m":38.24,"r":60350},{"t":"2023-11-14T15:55Z","m":38.33,"r":60260},{"t":"2023-11-14T15:56Z","m":37.40,"r":61300},{"t":"2023-11-14T15:57Z","m":38.27,"r":60320},{"t":"2023-11-14T15:58Z","m":38.36,"r":60230},{"t":"2023-11-14T15:59Z","m":38.28,"r":60310},
      {"t":"2023-11-14T16:00Z","m":38.30,"r":60290},{"t":"2023-11-14T16:01Z","m":38.35,"r":60240},{"t":"2023-11-14T16:02Z","m":38.26,"r":60330},{"t":"2023-11-14T16:03Z","m":38.32,"r":60270},{"t":"2023-11-14T16:04Z","m":38.24,"r":60350},{"t":"2023-11-14T16:05Z","m":38.33,"r":60260},{"t":"2023-11-14T16:06Z","m":38.30,"r":60290},{"t":"2023-11-14T16:07Z","m":38.27,"r":60320},{"t":"2023-11-14T16:08Z","m":38.36,"r":60230},{"t":"2023-11-14T16:09Z","m":38.28,"r":60310},{"t":"2023-11-14T16:10Z","m":38.30,"r":60290},{"t":"2023-11-14T16:11Z","m":37.50,"r":61200},{"t":"2023-11-14T16:12Z","m":38.26,"r":60330},{"t":"2023-11-14T16:13Z","m":38.32,"r":60270},{"t":"2023-11-14T16:14Z","m":38.24,"r":60350},{"t":"2023-11-14T16:15Z","m":37.60,"r":61100},{"t":"2023-11-14T16:16Z","m":38.30,"r":60290},{"t":"2023-11-14T16:17Z","m":38.27,"r":60320},{"t":"2023-11-14T16:18Z","m":38.36,"r":60230},{"t":"2023-11-14T16:19Z","m":38.28,"r":60310},{"t":"2023-11-14T16:20Z","m":38.30,"r":60290},{"t":"2023-11-14T16:21Z","m":38.35,"r":60240},{"t":"2023-11-14T16:22Z","m":38.26,"r":60330},{"t":"2023-11-14T16:23Z","m":37.50,"r":61200},{"t":"2023-11-14T16:24Z","m":38.24,"r":60350},{"t":"2023-11-14T16:25Z","m":38.33,"r":60260},{"t":"2023-11-14T16:26Z","m":38.30,"r":60290},{"t":"2023-11-14T16:27Z","m":38.27,"r":60320},{"t":"2023-11-14T16:28Z","m":37.60,"r":61150},{"t":"2023-11-14T16:29Z","m":38.28,"r":60310},{"t":"2023-11-14T16:30Z","m":38.30,"r":60290},{"t":"2023-11-14T16:31Z","m":38.35,"r":60240},{"t":"2023-11-14T16:32Z","m":38.26,"r":60330},{"t":"2023-11-14T16:33Z","m":38.32,"r":60270},{"t":"2023-11-14T16:34Z","m":38.24,"r":60350},{"t":"2023-11-14T16:35Z","m":38.33,"r":60260},{"t":"2023-11-14T16:36Z","m":38.30,"r":60290},{"t":"2023-11-14T16:37Z","m":37.40,"r":61300},{"t":"2023-11-14T16:38Z","m":38.36,"r":60230},{"t":"2023-11-14T16:39Z","m":38.28,"r":60310},{"t":"2023-11-14T16:40Z","m":38.30,"r":60290},{"t":"2023-11-14T16:41Z","m":38.35,"r":60240},{"t":"2023-11-14T16:42Z","m":38.26,"r":60330},{"t":"2023-11-14T16:43Z","m":38.32,"r":60270},{"t":"2023-11-14T16:44Z","m":38.24,"r":60350},{"t":"2023-11-14T16:45Z","m":38.33,"r":60260},{"t":"2023-11-14T16:46Z","m":38.30,"r":60290},{"t":"2023-11-14T16:47Z","m":37.50,"r":61200},{"t":"2023-11-14T16:48Z","m":38.36,"r":60230},{"t":"2023-11-14T16:49Z","m":37.70,"r":61000},{"t":"2023-11-14T16:50Z","m":38.30,"r":60290},{"t":"2023-11-14T16:51Z","m":38.35,"r":60240},{"t":"2023-11-14T16:52Z","m":38.26,"r":60330},{"t":"2023-11-14T16:53Z","m":38.32,"r":60270},{"t":"2023-11-14T16:54Z","m":38.24,"r":60350},{"t":"2023-11-14T16:55Z","m":38.33,"r":60260},{"t":"2023-11-14T16:56Z","m":38.30,"r":60290},{"t":"2023-11-14T16:57Z","m":37.40,"r":61250},{"t":"2023-11-14T16:58Z","m":38.36,"r":60230},{"t":"2023-11-14T16:59Z","m":37.60,"r":61100},
      {"t":"2023-11-14T17:00Z","m":38.30,"r":60290},{"t":"2023-11-14T17:01Z","m":38.35,"r":60240},{"t":"2023-11-14T17:02Z","m":38.26,"r":60330},{"t":"2023-11-14T17:03Z","m":38.32,"r":60270},{"t":"2023-11-14T17:04Z","m":38.24,"r":60350},{"t":"2023-11-14T17:05Z","m":38.33,"r":60260},{"t":"2023-11-14T17:06Z","m":38.30,"r":60290},{"t":"2023-11-14T17:07Z","m":38.27,"r":60320},{"t":"2023-11-14T17:08Z","m":37.50,"r":61200},{"t":"2023-11-14T17:09Z","m":38.28,"r":60310},{"t":"2023-11-14T17:10Z","m":38.30,"r":60290},{"t":"2023-11-14T17:11Z","m":38.35,"r":60240},{"t":"2023-11-14T17:12Z","m":38.26,"r":60330},{"t":"2023-11-14T17:13Z","m":38.32,"r":60270},{"t":"2023-11-14T17:14Z","m":38.24,"r":60350},{"t":"2023-11-14T17:15Z","m":37.40,"r":61250},{"t":"2023-11-14T17:16Z","m":38.30,"r":60290},{"t":"2023-11-14T17:17Z","m":38.27,"r":60320},{"t":"2023-11-14T17:18Z","m":37.60,"r":61100},{"t":"2023-11-14T17:19Z","m":38.28,"r":60310},{"t":"2023-11-14T17:20Z","m":38.30,"r":60290},{"t":"2023-11-14T17:21Z","m":38.35,"r":60240},{"t":"2023-11-14T17:22Z","m":38.26,"r":60330},{"t":"2023-11-14T17:23Z","m":38.32,"r":60270},{"t":"2023-11-14T17:24Z","m":38.24,"r":60350},{"t":"2023-11-14T17:25Z","m":38.33,"r":60260},{"t":"2023-11-14T17:26Z","m":38.30,"r":60290},{"t":"2023-11-14T17:27Z","m":38.27,"r":60320},{"t":"2023-11-14T17:28Z","m":37.30,"r":61350},{"t":"2023-11-14T17:29Z","m":38.28,"r":60310},{"t":"2023-11-14T17:30Z","m":37.40,"r":61250},{"t":"2023-11-14T17:31Z","m":38.35,"r":60240},{"t":"2023-11-14T17:32Z","m":38.26,"r":60330},{"t":"2023-11-14T17:33Z","m":37.60,"r":61100},{"t":"2023-11-14T17:34Z","m":38.24,"r":60350},{"t":"2023-11-14T17:35Z","m":38.33,"r":60260},{"t":"2023-11-14T17:36Z","m":38.30,"r":60290},{"t":"2023-11-14T17:37Z","m":37.70,"r":61000},{"t":"2023-11-14T17:38Z","m":38.36,"r":60230},{"t":"2023-11-14T17:39Z","m":38.28,"r":60310}
    ],
    "disk": [
      {"t":"2023-11-14T13:04:00Z","d":861,"h":"- ip-10-29-36-254"},
      {"t":"2023-11-14T13:04:50Z","d":861,"h":"- ip-10-29-36-254"},
      {"t":"2023-11-14T13:05:00Z","d":860,"h":"- ip-10-29-36-254"},
      {"t":"2023-11-14T17:39:15Z","d":860,"h":"- ip-10-29-36-254"}
    ]
  },
  "columns": 2,
  "bounds": "flush",
  "spacing": {"row": 80, "column": 130},
  "resolve": {"scale": {"color": "independent"}, "legend": {"color": "independent"}},
  "concat": [
    {
      "width": 655, "height": 405,
      "data": {"name": "cpu"},
      "mark": {"type": "line", "clip": true},
      "encoding": {
        "x": {"field": "t", "type": "temporal",
          "scale": {"type": "utc", "domain": [{"year":2023,"month":11,"date":14,"hours":12,"minutes":50,"seconds":46,"utc":true},{"year":2023,"month":11,"date":14,"hours":17,"minutes":53,"seconds":5,"utc":true}]},
          "axis": {"title": null, "labels": false,
            "values": [{"year":2023,"month":11,"date":14,"hours":13,"utc":true},{"year":2023,"month":11,"date":14,"hours":14,"utc":true},{"year":2023,"month":11,"date":14,"hours":15,"utc":true},{"year":2023,"month":11,"date":14,"hours":16,"utc":true},{"year":2023,"month":11,"date":14,"hours":17,"utc":true}]}},
        "y": {"field": "c", "type": "quantitative",
          "scale": {"domain": [-7.7, 159.5], "nice": false, "zero": false},
          "axis": {"title": "Avg CPU Utilization (%)", "values": [0,20,40,60,80,100,120,140], "format": "d"}}
      }
    },
    {
      "width": 655, "height": 405,
      "data": {"name": "mem"},
      "mark": {"type": "line", "clip": true},
      "encoding": {
        "x": {"field": "t", "type": "temporal",
          "scale": {"type": "utc", "domain": [{"year":2023,"month":11,"date":14,"hours":12,"minutes":50,"seconds":46,"utc":true},{"year":2023,"month":11,"date":14,"hours":17,"minutes":53,"seconds":5,"utc":true}]},
          "axis": {"title": null, "labels": false,
            "values": [{"year":2023,"month":11,"date":14,"hours":13,"utc":true},{"year":2023,"month":11,"date":14,"hours":14,"utc":true},{"year":2023,"month":11,"date":14,"hours":15,"utc":true},{"year":2023,"month":11,"date":14,"hours":16,"utc":true},{"year":2023,"month":11,"date":14,"hours":17,"utc":true}]}},
        "y": {"field": "m", "type": "quantitative",
          "scale": {"domain": [0.93, 40.29], "nice": false, "zero": false},
          "axis": {"title": "Memory Utilization (%)", "values": [5,10,15,20,25,30,35,40], "format": "d"}}
      }
    },
    {
      "width": 655, "height": 405,
      "data": {"name": "disk"},
      "mark": {"type": "line", "clip": true},
      "encoding": {
        "x": {"field": "t", "type": "temporal",
          "scale": {"type": "utc", "domain": [{"year":2023,"month":11,"date":14,"hours":12,"minutes":50,"seconds":46,"utc":true},{"year":2023,"month":11,"date":14,"hours":17,"minutes":53,"seconds":5,"utc":true}]},
          "axis": {"title": "Date and Time (UTC)",
            "labelExpr": "utchours(datum.value) % 2 == 0 ? utcFormat(datum.value, '%b-%d-%H:%M') : ''",
            "values": [{"year":2023,"month":11,"date":14,"hours":13,"utc":true},{"year":2023,"month":11,"date":14,"hours":14,"utc":true},{"year":2023,"month":11,"date":14,"hours":15,"utc":true},{"year":2023,"month":11,"date":14,"hours":16,"utc":true},{"year":2023,"month":11,"date":14,"hours":17,"utc":true}]}},
        "y": {"field": "d", "type": "quantitative",
          "scale": {"domain": [859.95, 861.05], "nice": false, "zero": false},
          "axis": {"title": "Disk Remaining (GB)", "values": [860.0,860.2,860.4,860.6,860.8,861.0], "format": ".1f"}},
        "color": {"field": "h", "type": "nominal", "scale": {"range": ["#1f77b4"]},
          "legend": {"title": null, "orient": "top-right", "offset": 7, "padding": 4,
            "strokeColor": "#cccccc", "fillColor": "rgba(255,255,255,0.8)", "cornerRadius": 3,
            "symbolType": "stroke", "symbolSize": 600, "symbolStrokeWidth": 2, "labelOffset": 15}}
      }
    },
    {
      "width": 655, "height": 405,
      "data": {"name": "mem"},
      "mark": {"type": "line", "clip": true},
      "encoding": {
        "x": {"field": "t", "type": "temporal",
          "scale": {"type": "utc", "domain": [{"year":2023,"month":11,"date":14,"hours":12,"minutes":50,"seconds":46,"utc":true},{"year":2023,"month":11,"date":14,"hours":17,"minutes":53,"seconds":5,"utc":true}]},
          "axis": {"title": "Date and Time (UTC)",
            "labelExpr": "utchours(datum.value) % 2 == 0 ? utcFormat(datum.value, '%b-%d-%H:%M') : ''",
            "values": [{"year":2023,"month":11,"date":14,"hours":13,"utc":true},{"year":2023,"month":11,"date":14,"hours":14,"utc":true},{"year":2023,"month":11,"date":14,"hours":15,"utc":true},{"year":2023,"month":11,"date":14,"hours":16,"utc":true},{"year":2023,"month":11,"date":14,"hours":17,"utc":true}]}},
        "y": {"field": "r", "type": "quantitative",
          "scale": {"domain": [58416, 94047], "nice": false, "zero": false},
          "axis": {"title": "Memory Remaining (MB)", "values": [60000,65000,70000,75000,80000,85000,90000], "format": "d"}}
      }
    }
  ]
}
